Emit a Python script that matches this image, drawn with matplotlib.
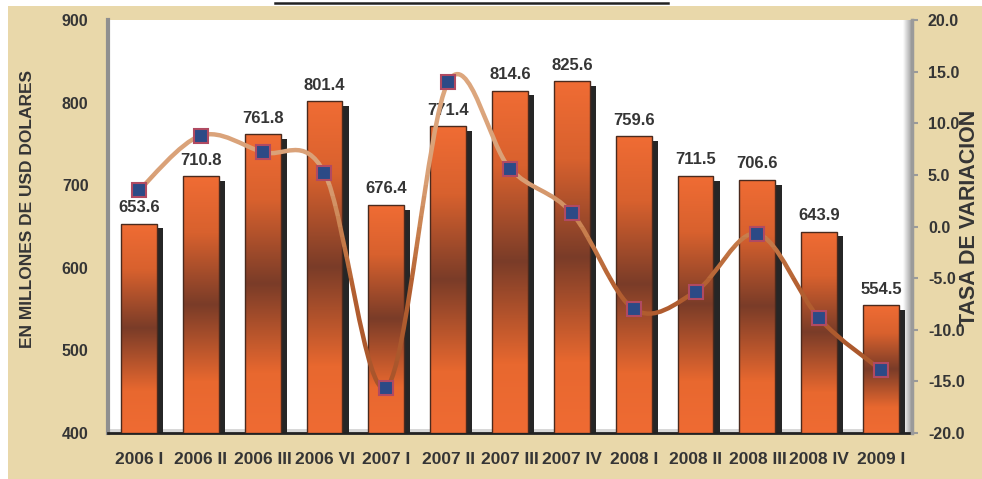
import matplotlib
matplotlib.use("Agg")
import matplotlib.pyplot as plt
import numpy as np
from matplotlib.colors import LinearSegmentedColormap
from matplotlib.lines import Line2D
from matplotlib.patches import PathPatch, Rectangle
from matplotlib.path import Path

# quarterly exports (millions of USD) and quarter-on-quarter variation rate (%)
quarters = ["2006 I", "2006 II", "2006 III", "2006 VI", "2007 I", "2007 II", "2007 III",
            "2007 IV", "2008 I", "2008 II", "2008 III", "2008 IV", "2009 I"]
exports = [653.6, 710.8, 761.8, 801.4, 676.4, 771.4, 814.6, 825.6, 759.6, 711.5, 706.6, 643.9, 554.5]
variation = [3.5, 8.8, 7.2, 5.2, -15.6, 14.0, 5.6, 1.3, -8.0, -6.3, -0.7, -8.9, -13.9]

left_ticks = [400, 500, 600, 700, 800, 900]
right_ticks = [-20, -15, -10, -5, 0, 5, 10, 15, 20]

PARCHMENT = "#e9d8aa"
TEXT = "#353535"
W, H = 982, 479

plt.rcParams["font.family"] = ["Liberation Sans", "DejaVu Sans"]

fig = plt.figure(figsize=(W / 100, H / 100), dpi=100)
fig.patch.set_facecolor("white")
fig.add_artist(Rectangle((8 / W, 0), 1, (H - 6) / H, transform=fig.transFigure,
                         facecolor=PARCHMENT, edgecolor="none", zorder=-10))
fig.add_artist(Line2D([275 / W, 668 / W], [1 - 2.5 / H] * 2, transform=fig.transFigure,
                      color="#222222", lw=1.8))

ax = fig.add_axes([108 / W, (H - 433) / H, 804 / W, 413 / H])
ax.set_facecolor("white")
x = np.arange(len(quarters))
bar_w = 0.58

# grey floor and right wall shading of the 3d plot area
ax.add_patch(Rectangle((0, 0), 1, 4 / 413, transform=ax.transAxes,
                       facecolor="#d8d8d8", edgecolor="none", zorder=0.5))
wall = np.linspace(0, 1, 64).reshape(1, -1)
ax.imshow(wall, extent=(1 - 9 / 804, 1, 0, 1), transform=ax.transAxes, aspect="auto",
          cmap=LinearSegmentedColormap.from_list("wall", ["#ffffff", "#9c9c9c"]), zorder=0.6)

# bar shadows
heights = [v - 400 for v in exports]
ax.bar(x + 0.1, [h - 6 for h in heights], bar_w, bottom=400, color="#262626", zorder=2)

# gradient bars
bar_cmap = LinearSegmentedColormap.from_list(
    "bar", [(0.0, "#ef6b33"), (0.2, "#e8682f"), (0.5, "#7a3c28"), (0.78, "#d8612e"), (1.0, "#f06c34")])
grad = np.linspace(0, 1, 256).reshape(-1, 1)
bars = ax.bar(x, heights, bar_w, bottom=400, facecolor="none", edgecolor="#4a2a1e", lw=1, zorder=4)
for b in bars:
    bx, by = b.get_x(), b.get_y()
    im = ax.imshow(grad, extent=(bx, bx + b.get_width(), by, by + b.get_height()), origin="lower",
                   aspect="auto", cmap=bar_cmap, zorder=3)
    im.set_clip_path(b)

for i, v in enumerate(exports):
    ax.annotate(f"{v:.1f}", (i, v), xytext=(0, 6), textcoords="offset points", ha="center",
                va="bottom", fontsize=12, fontweight="bold", color=TEXT, zorder=6)

ax.set_xlim(-0.5, len(quarters) - 0.5)
ax.set_ylim(400, 900)
ax.set_yticks(left_ticks)
ax.set_xticks(x)
ax.set_xticklabels(quarters)
for s in ("top", "right"):
    ax.spines[s].set_visible(False)
ax.spines["left"].set_color("#8f8f8f")
ax.spines["left"].set_linewidth(3)
ax.spines["bottom"].set_color("#222222")
ax.spines["bottom"].set_linewidth(2)
ax.tick_params(axis="y", length=0, pad=14, labelsize=11.5, labelcolor=TEXT)
ax.tick_params(axis="x", length=0, pad=14, labelsize=12.5, labelcolor=TEXT)
for lab in ax.get_xticklabels() + ax.get_yticklabels():
    lab.set_fontweight("bold")

# variation rate on the secondary axis
ax2 = ax.twinx()
ax2.set_ylim(-20, 20)
ax2.set_yticks(right_ticks)
ax2.set_yticklabels([f"{t:.1f}" for t in right_ticks])
for s in ("top", "left", "bottom"):
    ax2.spines[s].set_visible(False)
ax2.spines["right"].set_color("#9a9a9a")
ax2.spines["right"].set_linewidth(2.5)
ax2.tick_params(axis="y", length=4.5, width=1.5, color="#9a9a9a", pad=7, labelsize=11.5,
                labelcolor=TEXT)
for lab in ax2.get_yticklabels():
    lab.set_fontweight("bold")

# smoothed line (Catmull-Rom as cubic Bezier segments)
pts = np.column_stack([x, variation]).astype(float)
n = len(pts)
verts = [pts[0]]
codes = [Path.MOVETO]
for i in range(n - 1):
    p0, p1, p2, p3 = pts[max(i - 1, 0)], pts[i], pts[i + 1], pts[min(i + 2, n - 1)]
    verts += [p1 + (p2 - p0) / 6, p2 - (p3 - p1) / 6, p2]
    codes += [Path.CURVE4] * 3
curve = Path(verts, codes)

line_cmap = LinearSegmentedColormap.from_list(
    "line", [(0.0, "#a24f28"), (0.35, "#b35f30"), (0.5, "#c98150"), (0.62, "#d9a077"), (1.0, "#dfab82")])
nb = 40
for k in range(nb):
    y0 = -20 + k * 40 / nb
    pp = PathPatch(curve, facecolor="none", edgecolor=line_cmap((k + 0.5) / nb), lw=3.2,
                   capstyle="round", joinstyle="round", zorder=4)
    ax2.add_patch(pp)
    pp.set_clip_path(Rectangle((-0.5, y0), len(quarters), 40 / nb, transform=ax2.transData))

ax2.plot(x, variation, linestyle="none", marker="s", markersize=10, markerfacecolor="#2c4a86",
         markeredgecolor="#b04a62", markeredgewidth=1.5, zorder=5)
ax2.set_xlim(-0.5, len(quarters) - 0.5)

fig.text(20 / W, 1 - 209 / H, "EN MILLONES DE USD DOLARES", rotation=90, ha="left", va="center",
         fontsize=12.5, fontweight="bold", color=TEXT)
fig.text(959 / W, 1 - 218 / H, "TASA DE VARIACION", rotation=90, ha="left", va="center",
         fontsize=15.5, fontweight="bold", color=TEXT)

fig.savefig("out.png", dpi=100, facecolor=fig.get_facecolor())
